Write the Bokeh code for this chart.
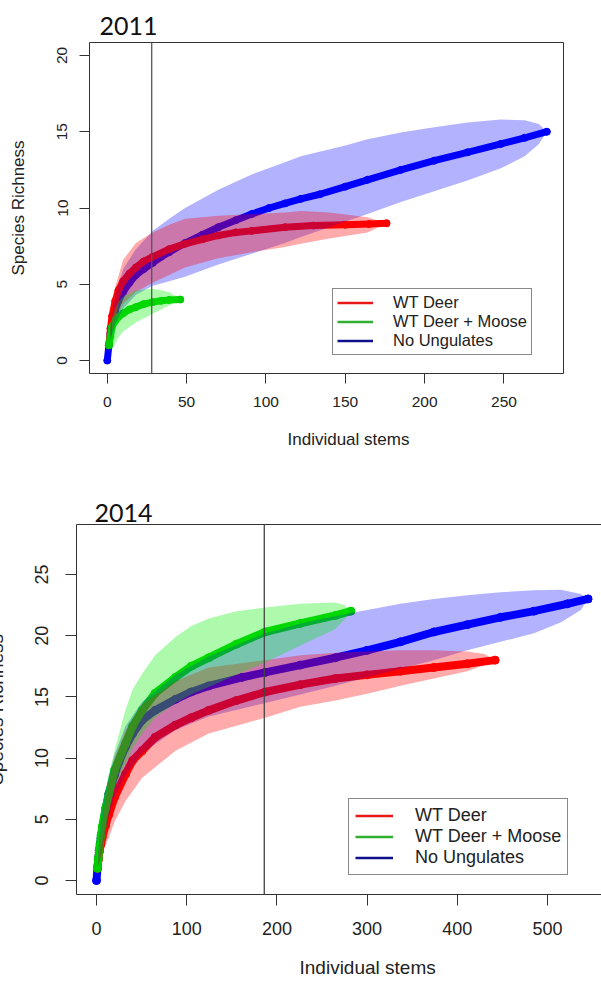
from bokeh.plotting import figure
from bokeh.models import (Span, Legend, LegendItem, LinearAxis, Title,
                          SingleIntervalTicker, FixedTicker, Range1d)
from bokeh.embed import file_html
from bokeh.resources import INLINE

# ---------------- 2011 data ----------------
blue11_x = [0, 1, 2, 3, 4, 5, 7, 10, 14, 18, 23, 28.6, 34, 39, 49, 60, 70, 81, 91, 102, 112, 122, 134, 150, 164, 185, 206, 227, 248, 263, 277]
blue11_y = [0, 1, 1.8, 2.5, 2.9, 3.3, 3.9, 4.5, 5.1, 5.6, 6.0, 6.4, 6.8, 7.1, 7.7, 8.25, 8.74, 9.2, 9.6, 10.0, 10.3, 10.6, 10.9, 11.4, 11.85, 12.5, 13.1, 13.65, 14.2, 14.6, 15.0]
blue11_bx = [2, 5, 10, 18, 28.6, 39, 49, 70, 91, 112, 122, 150, 164, 185, 206, 227, 248, 263, 272, 277]
blue11_hi = [2.2, 4.3, 6.0, 7.3, 8.5, 9.3, 10.0, 11.2, 12.2, 13.0, 13.4, 14.1, 14.5, 14.95, 15.3, 15.6, 15.8, 15.75, 15.5, 15.0]
blue11_lo = [1.4, 2.4, 3.4, 4.3, 4.9, 5.2, 5.5, 6.3, 7.0, 7.7, 8.1, 9.1, 9.6, 10.4, 11.1, 11.8, 12.6, 13.4, 14.2, 15.0]

red11_x = [1, 2, 3, 5, 7, 10, 14, 18, 23, 28.6, 39, 49, 60, 70, 81, 91, 112, 130, 150, 165, 176]
red11_y = [1, 2.1, 2.9, 3.9, 4.6, 5.2, 5.7, 6.1, 6.5, 6.8, 7.3, 7.65, 7.95, 8.2, 8.4, 8.5, 8.74, 8.85, 8.9, 8.95, 9.0]
red11_bx = [2, 5, 10, 18, 28.6, 39, 49, 70, 91, 112, 122, 140, 164, 176]
red11_hi = [2.6, 4.8, 6.6, 7.7, 8.4, 8.9, 9.3, 9.5, 9.6, 9.7, 9.8, 9.7, 9.4, 9.0]
red11_lo = [1.6, 2.7, 3.7, 4.5, 5.1, 5.6, 6.1, 6.7, 7.1, 7.45, 7.65, 8.0, 8.4, 9.0]

green11_x = [1, 2, 3, 5, 7, 10, 14, 18, 23, 28.6, 34, 39, 46]
green11_y = [1, 1.6, 2.2, 2.6, 2.85, 3.1, 3.35, 3.5, 3.7, 3.83, 3.92, 3.97, 4.0]
green11_bx = [3, 5, 7, 10, 18, 28.6, 39, 46]
green11_hi = [2.8, 3.4, 3.85, 4.2, 4.6, 4.7, 4.5, 4.0]
green11_lo = [0.7, 1.1, 1.5, 1.9, 2.5, 3.06, 3.6, 4.0]

cut11 = 28

# ---------------- 2014 data ----------------
blue14_x = [0, 1, 2, 3, 4, 5, 7, 10, 13.7, 20, 25, 32, 40, 50.6, 65, 87.6, 105, 124.5, 161.5, 187, 226, 265, 300, 337, 374, 411, 448, 485, 522, 545]
blue14_y = [0, 1, 1.77, 2.45, 3.0, 3.5, 4.4, 5.8, 7.1, 8.6, 9.7, 10.9, 12.0, 13.1, 13.9, 14.8, 15.4, 15.9, 16.6, 17.0, 17.6, 18.2, 18.8, 19.5, 20.3, 20.9, 21.5, 22.0, 22.6, 23.0]
blue14_bx = [2, 5, 10, 13.7, 20, 32, 50.6, 87.6, 124.5, 187, 226, 265, 300, 337, 374, 411, 448, 485, 515, 537, 545]
blue14_hi = [2.4, 5.0, 7.3, 8.6, 10.3, 12.6, 14.6, 16.8, 18.3, 20.2, 21.0, 21.6, 22.1, 22.6, 23.0, 23.3, 23.55, 23.7, 23.75, 23.4, 23.0]
blue14_lo = [1.2, 2.2, 4.1, 5.3, 6.8, 8.6, 10.4, 12.3, 13.4, 14.5, 15.2, 15.9, 16.6, 17.3, 18.0, 18.8, 19.5, 20.2, 21.1, 22.1, 23.0]

green14_x = [1, 2, 3, 5, 6.3, 10, 13.7, 20, 32.2, 40, 50.6, 65, 87.6, 105, 124.5, 155, 187, 226, 265, 282]
green14_y = [1, 1.8, 2.5, 3.7, 4.4, 5.9, 7.1, 9.0, 11.2, 12.6, 13.9, 15.3, 16.6, 17.5, 18.2, 19.3, 20.3, 21.0, 21.65, 22.0]
green14_bx = [2, 5, 10, 13.7, 21, 32, 40, 50.6, 65, 87.6, 105, 124.5, 155, 187, 226, 264, 275, 282]
green14_hi = [2.3, 4.6, 7.2, 8.7, 10.9, 13.9, 15.6, 16.9, 18.4, 19.9, 20.8, 21.4, 22.0, 22.3, 22.6, 22.7, 22.5, 22.0]
green14_lo = [1.3, 2.6, 4.5, 5.7, 7.8, 9.5, 10.8, 12.0, 13.3, 14.5, 15.2, 15.8, 16.8, 17.8, 19.2, 20.5, 21.3, 22.0]

red14_x = [1, 2, 3, 5, 6.3, 10, 13.7, 20, 32.2, 40, 50.6, 65, 87.6, 105, 124.5, 155, 187, 226, 265, 300, 337, 374, 411, 442]
red14_y = [1, 1.7, 2.3, 3.0, 3.5, 4.5, 5.4, 6.8, 8.7, 9.8, 10.6, 11.7, 12.7, 13.3, 13.9, 14.7, 15.4, 16.0, 16.5, 16.8, 17.1, 17.4, 17.7, 18.0]
red14_bx = [2, 5, 10, 13.7, 20, 32.2, 50.6, 87.6, 124.5, 187, 226, 265, 300, 337, 374, 411, 430, 442]
red14_hi = [2.2, 4.0, 6.7, 8.2, 10.0, 12.25, 14.4, 16.3, 17.4, 18.0, 18.4, 18.6, 18.7, 18.8, 18.8, 18.7, 18.5, 18.0]
red14_lo = [1.2, 2.0, 2.9, 3.5, 4.8, 6.5, 8.4, 10.6, 12.0, 13.3, 14.2, 14.7, 15.25, 15.9, 16.5, 17.1, 17.6, 18.0]

cut14 = 186

legend_labels = ["WT Deer", "WT Deer + Moose", "No Ungulates"]
titles = ["2011", "2014"]
x_title = "Individual stems"
y_title = "Species Richness"

LINE = {"red": "#FF0000", "green": "#00CD00", "blue": "#0000FF"}
BAND = {"red": ("#FF0000", 0.33), "green": ("#00EE00", 0.32), "blue": ("#0000FF", 0.3)}
LEG = {"red": "#E81818", "green": "#30B030", "blue": "#10108A"}
AX = "#333333"
FONT = "Liberation Sans"
NAN = float("nan")


def style_axes(p, tick_font, tick_out, x_standoff, y_standoff):
    p.grid.visible = False
    for ax in (p.xaxis[0], p.yaxis[0]):
        ax.major_label_text_font = FONT
        ax.major_label_text_font_size = tick_font
        ax.major_label_text_color = "#222222"
        ax.major_tick_out = tick_out
        ax.major_tick_in = 0
        ax.minor_tick_line_color = None
        ax.major_tick_line_color = AX
        ax.axis_label_text_font = FONT
        ax.axis_label_text_font_style = "normal"
        ax.axis_label_text_color = "#222222"
    p.xaxis[0].major_label_standoff = x_standoff
    p.yaxis[0].major_label_standoff = y_standoff
    p.yaxis[0].major_label_orientation = "vertical"


def style_title(p, offset, standoff):
    p.title.text_font = "Lato"
    p.title.text_font_size = "25px"
    p.title.text_font_style = "normal"
    p.title.text_color = "#111111"
    p.title.align = "left"
    p.title.offset = offset
    p.title.standoff = standoff


def draw_series(p, series, lw, dot):
    # lines first (the bands are drawn over them, as in the original)
    for key, xs, ys, _, _, _ in series:
        p.line(xs, ys, line_color=LINE[key], line_width=lw, line_cap="round", line_join="round")
        p.scatter(xs, ys, size=dot, color=LINE[key], marker="circle")
    for key, _, _, bx, lo, hi in series:
        c, a = BAND[key]
        p.varea(x=bx, y1=lo, y2=hi, fill_color=c, fill_alpha=a)


def add_legend(p, loc, font, padding, gw, standoff, rowh):
    items = []
    for lab, key in zip(legend_labels, ["red", "green", "blue"]):
        r = p.line([NAN], [NAN], line_color=LEG[key], line_width=2.5)
        items.append(LegendItem(label=lab, renderers=[r]))
    leg = Legend(items=items, location=loc, margin=0, padding=padding,
                 spacing=0, glyph_width=gw, glyph_height=rowh, label_height=rowh,
                 label_standoff=standoff, label_text_font=FONT,
                 label_text_font_size=font, label_text_color="#222222",
                 border_line_color="#111111", border_line_width=1,
                 background_fill_color="white", background_fill_alpha=1)
    p.add_layout(leg)


def add_xtitle(p, offset, standoff, size):
    t = Title(text=x_title, align="left", offset=offset, standoff=standoff,
              text_font=FONT, text_font_size=size, text_font_style="normal",
              text_color="#222222")
    p.add_layout(t, "below")


# ---------------- top panel ----------------
p1 = figure(frame_width=474, frame_height=331,
            x_range=Range1d(-11.2, 287.5), y_range=Range1d(-0.85, 20.85),
            min_border_left=89, min_border_right=38, min_border_top=42, min_border_bottom=105,
            output_backend="svg", toolbar_location=None, title=titles[0])
style_title(p1, 10, 16)
p1.outline_line_color = AX
p1.xaxis.ticker = SingleIntervalTicker(interval=50, num_minor_ticks=0)
p1.yaxis.ticker = SingleIntervalTicker(interval=5, num_minor_ticks=0)
style_axes(p1, "15.5px", 10, 13, 12)
p1.xaxis.axis_line_color = None
p1.yaxis.axis_line_color = None
p1.yaxis.axis_label = y_title
p1.yaxis.axis_label_text_font_size = "17px"
p1.yaxis.axis_label_standoff = 27

draw_series(p1, [
    ("blue", blue11_x, blue11_y, blue11_bx, blue11_lo, blue11_hi),
    ("red", red11_x, red11_y, red11_bx, red11_lo, red11_hi),
    ("green", green11_x, green11_y, green11_bx, green11_lo, green11_hi),
], lw=7, dot=7)
p1.add_layout(Span(location=cut11, dimension="height", line_color="#555555", line_width=1.3))
add_xtitle(p1, 198, 36, "17px")
add_legend(p1, (243, 18), "16.5px", 4, 36, 20, 17)

# ---------------- bottom panel ----------------
p2 = figure(frame_width=525, frame_height=370,
            x_range=Range1d(-22.2, 559.9), y_range=Range1d(-1.14, 29.08),
            min_border_left=100, min_border_right=0, min_border_top=46, min_border_bottom=90,
            output_backend="svg", toolbar_location=None, title=titles[1],
            styles={"margin-left": "-24px"})
style_title(p2, 18, 5)
p2.outline_line_color = None
p2.xaxis.ticker = SingleIntervalTicker(interval=100, num_minor_ticks=0)
p2.yaxis.ticker = SingleIntervalTicker(interval=5, num_minor_ticks=0)
style_axes(p2, "18px", 11, 16, 17)
p2.xaxis.axis_line_color = AX
p2.yaxis.axis_line_color = AX
p2.yaxis.axis_label = y_title
p2.yaxis.axis_label_text_font_size = "19px"
p2.yaxis.axis_label_standoff = 26
top_ax = LinearAxis(ticker=FixedTicker(ticks=[]), major_tick_out=0, major_tick_in=0,
                    major_label_standoff=0, axis_line_color=AX, minor_tick_line_color=None)
p2.add_layout(top_ax, "above")

draw_series(p2, [
    ("blue", blue14_x, blue14_y, blue14_bx, blue14_lo, blue14_hi),
    ("red", red14_x, red14_y, red14_bx, red14_lo, red14_hi),
    ("green", green14_x, green14_y, green14_bx, green14_lo, green14_hi),
], lw=8, dot=8)
p2.add_layout(Span(location=cut14, dimension="height", line_color="#444444", line_width=1.3))
add_xtitle(p2, 223, 35, "19px")
add_legend(p2, (272, 19), "18px", 6, 38, 22, 19)

open("out.html", "w").write(file_html([p1, p2], INLINE))
